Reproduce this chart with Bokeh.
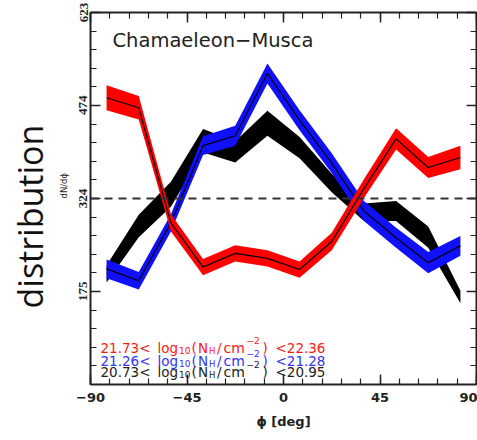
import numpy as np
from math import pi
from bokeh.plotting import figure
from bokeh.models import (ColumnDataSource, LinearAxis, FixedTicker, Label, Span, Title)
from bokeh.core.properties import value
from bokeh.embed import file_html
from bokeh.resources import INLINE

# ---------------- data ----------------
phi = [-82.5, -67.5, -52.5, -37.5, -22.5, -7.5, 7.5, 22.5, 37.5, 52.5, 67.5, 82.5]

red_center = [486, 470, 285, 214, 236, 228, 210, 255, 340, 420, 374, 390]
red_err    = [20, 19, 14, 13, 13, 13, 13, 14, 15, 17, 17, 19]

blue_center = [211, 192, 285, 409, 425, 525, 450, 381, 304, 261, 221, 248]
blue_err    = [15, 14, 14, 15, 16, 16, 16, 16, 16, 16, 17, 16]

black_center = [203, 280, 331, 417, 399, 445, 406, 349, 302, 304, 262, 166]
black_err    = [14, 18, 20, 19, 17, 20, 17, 15, 14, 16, 17, 10]

reference_level = 324

x_major = [-90, -45, 0, 45, 90]
x_major_labels = {-90: "\u221290", -45: "\u221245", 0: "0", 45: "45", 90: "90"}
y_major = [175, 324, 474, 623]

legend_low = ["21.73", "21.26", "20.73"]
legend_high = ["22.36", "21.28", "20.95"]
legend_colors = ["#ff1a1a", "#3333ff", "#222222"]

title_text = "Chamaeleon\u2212Musca"

# ---------------- figure ----------------
Y0, Y1 = 25.3, 623.0
p = figure(width=477, height=440, x_range=(-90, 90), y_range=(Y0, Y1),
           output_backend="svg", toolbar_location=None,
           x_axis_type=None, y_axis_type=None,
           min_border_left=90, min_border_right=1,
           min_border_top=12, min_border_bottom=56)
p.grid.visible = False
p.outline_line_color = None
p.background_fill_color = "white"
p.border_fill_color = "white"

x_ticker = FixedTicker(ticks=x_major, minor_ticks=list(range(-90, 91, 9)))
y_step = (Y1 - Y0) / 20.0
y_ticker = FixedTicker(ticks=y_major, minor_ticks=[Y0 + i * y_step for i in range(21)])

AX_COLOR = "#222222"

def style_axis(ax, show_labels):
    ax.axis_line_color = AX_COLOR
    ax.axis_line_width = 2
    ax.major_tick_line_color = AX_COLOR
    ax.minor_tick_line_color = AX_COLOR
    ax.major_tick_line_width = 1.5
    ax.minor_tick_line_width = 1.2
    ax.major_tick_in = 10
    ax.major_tick_out = 0
    ax.minor_tick_in = 6
    ax.minor_tick_out = 0
    if not show_labels:
        ax.major_label_text_color = None
        ax.major_label_text_alpha = 0
        ax.major_label_text_font_size = "0px"
        ax.major_label_standoff = 0

xb = LinearAxis(ticker=x_ticker)
style_axis(xb, True)
xb.major_label_overrides = x_major_labels
xb.major_label_text_font = "DejaVu Sans"
xb.major_label_text_font_style = "bold"
xb.major_label_text_font_size = "13px"
xb.major_label_text_color = AX_COLOR
xb.major_label_standoff = 8
xb.axis_label = "\u03d5 [deg]"
xb.axis_label_text_font = "DejaVu Sans"
xb.axis_label_text_font_style = "bold"
xb.axis_label_text_font_size = "13px"
xb.axis_label_text_color = AX_COLOR
xb.axis_label_standoff = 9
p.add_layout(xb, "below")

xt = LinearAxis(ticker=x_ticker)
style_axis(xt, False)
p.add_layout(xt, "above")

yl = LinearAxis(ticker=y_ticker)
style_axis(yl, True)
yl.major_label_orientation = "vertical"
yl.major_label_text_font = "Liberation Sans Narrow"
yl.major_label_text_font_style = "bold"
yl.major_label_text_font_size = "13px"
yl.major_label_text_color = AX_COLOR
yl.major_label_standoff = 3
p.add_layout(yl, "left")

yr = LinearAxis(ticker=y_ticker)
style_axis(yr, False)
p.add_layout(yr, "right")

# side titles on the left (inner one first)
t_dn = Title(text="dN/d\u03d5", align="left", offset=186, standoff=12,
             vertical_align="top",
             text_font="DejaVu Sans", text_font_size="8.5px",
             text_font_style="normal", text_color="#222222")
p.add_layout(t_dn, "left")
t_dist = Title(text="distribution", align="left", offset=76, standoff=0,
               text_font="Open Sans", text_font_size="34px",
               text_font_style="normal", text_color="#111111")
p.add_layout(t_dist, "left")

# ---------------- bands ----------------
def band_source(center, err):
    c = np.array(center, dtype=float)
    e = np.array(err, dtype=float)
    return ColumnDataSource(dict(x=phi, y=c, lo=c - e, hi=c + e))

src_black = band_source(black_center, black_err)
src_blue = band_source(blue_center, blue_err)
src_red = band_source(red_center, red_err)

p.varea(x="x", y1="lo", y2="hi", source=src_black, fill_color="black")
p.varea(x="x", y1="lo", y2="hi", source=src_blue, fill_color="#1010ff")
p.line(x="x", y="y", source=src_blue, line_color="black", line_width=1.2)
p.varea(x="x", y1="lo", y2="hi", source=src_red, fill_color="#ff0000")
p.line(x="x", y="y", source=src_red, line_color="black", line_width=1.2)

p.add_layout(Span(location=reference_level, dimension="width",
                  line_color="#333333", line_width=2, line_dash="8 6"))

# ---------------- texts ----------------
def px_to_x(px):
    return -90 + (px - 90) * 180.0 / 386.0

def py_to_y(py):
    return Y0 + (383.5 - py) * (Y1 - Y0) / 371.8

p.add_layout(Label(x=px_to_x(112), y=py_to_y(40), text=title_text,
                   text_font="DejaVu Sans", text_font_size="19.5px",
                   text_color="#222222", text_baseline="middle", text_align="left"))

# legend lines built from pieces: (text, left px, baseline shift px, font size)
row_baselines = [347, 360, 371]
middle_pieces = [("log", 157, 0, "13.5px"), ("10", 178.5, 3, "9px"),
                 ("(", 191, 0, "13.5px"), ("N", 197.5, 0, "13.5px"),
                 ("H", 208.5, 3, "8.5px"), ("/", 216.5, 0, "13.5px"),
                 ("cm", 223, 0, "14px"), ("\u22122", 246, -7, "9px"),
                 (")", 262, 0, "13.5px")]
lx, ly, lt, lc, ls = [], [], [], [], []
for lo, hi, col, base in zip(legend_low, legend_high, legend_colors, row_baselines):
    pieces = [(lo + "<", 100, 0, "13.5px")] + middle_pieces + [("<" + hi, 275, 0, "13.5px")]
    for txt, xpx, dy, size in pieces:
        lx.append(px_to_x(xpx))
        ly.append(py_to_y(base + dy))
        lt.append(txt)
        lc.append(col)
        ls.append(size)
leg_src = ColumnDataSource(dict(x=lx, y=ly, text=lt, color=lc, size=ls))
p.text(x="x", y="y", text="text", source=leg_src, text_color="color",
       text_font=value("DejaVu Sans"), text_font_size="size",
       text_baseline="alphabetic", text_align="left")

open("out.html", "w").write(file_html(p, INLINE))
